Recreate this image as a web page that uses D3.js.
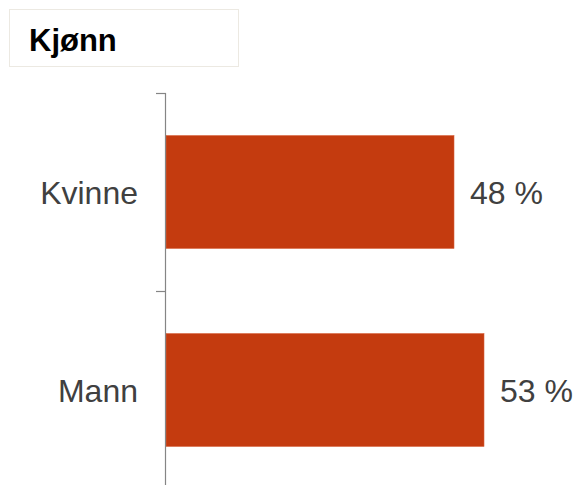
<!DOCTYPE html>
<html><head><meta charset="utf-8">
<script src="https://cdn.jsdelivr.net/npm/d3@7"></script>
<style>
html,body{margin:0;padding:0;background:#fff;}
svg{display:block;font-family:"Liberation Sans",Arial,sans-serif;}
</style></head>
<body>
<svg id="c" width="575" height="485"></svg>
<script>
const title = "Kjønn";
const categories = ["Kvinne", "Mann"];
const values = [48, 53];
const valueLabels = ["48 %", "53 %"];

const svg = d3.select("#c");

// title box
svg.append("rect").attr("x", 9.5).attr("y", 9.5).attr("width", 229).attr("height", 57)
  .attr("fill", "#fff").attr("stroke", "#ece9e2").attr("stroke-width", 1);
svg.append("text").attr("x", 29).attr("y", 51).attr("font-size", 31).attr("font-weight", "bold")
  .attr("fill", "#000").text(title);

const x0 = 166;
const x = d3.scaleLinear().domain([0, 100]).range([x0, x0 + 600]);
const y = d3.scaleBand().domain(categories).range([93, 489]).paddingInner(0.43).paddingOuter(0.215);
const gap = (y.step() - y.bandwidth()) / 2;

// bars
svg.selectAll("rect.bar").data(categories).enter().append("rect")
  .attr("class", "bar")
  .attr("x", x(0))
  .attr("y", d => y(d))
  .attr("width", (d, i) => x(values[i]) - x(0))
  .attr("height", y.bandwidth())
  .attr("fill", "#c43b0f")
  .attr("stroke", "#d5603a").attr("stroke-width", 0.6);

// axis line
svg.append("line").attr("x1", x0 - 0.5).attr("x2", x0 - 0.5).attr("y1", 93).attr("y2", 489)
  .attr("stroke", "#858585").attr("stroke-width", 1.2);
// ticks at band boundaries
svg.selectAll("line.tick").data(categories).enter().append("line")
  .attr("class", "tick")
  .attr("x1", x0 - 10).attr("x2", x0)
  .attr("y1", d => Math.round(y(d) - gap) + 0.5).attr("y2", d => Math.round(y(d) - gap) + 0.5)
  .attr("stroke", "#858585").attr("stroke-width", 1.2);

// category labels
svg.selectAll("text.cat").data(categories).enter().append("text")
  .attr("class", "cat")
  .attr("x", x0 - 28)
  .attr("y", d => y(d) + y.bandwidth() / 2)
  .attr("dy", "0.36em")
  .attr("text-anchor", "end")
  .attr("font-size", 32)
  .attr("fill", "#404040")
  .text(d => d);

// value labels
svg.selectAll("text.val").data(categories).enter().append("text")
  .attr("class", "val")
  .attr("x", (d, i) => x(values[i]) + 16)
  .attr("y", d => y(d) + y.bandwidth() / 2)
  .attr("dy", "0.36em")
  .attr("font-size", 32)
  .attr("fill", "#404040")
  .text((d, i) => valueLabels[i]);
</script>
</body></html>
